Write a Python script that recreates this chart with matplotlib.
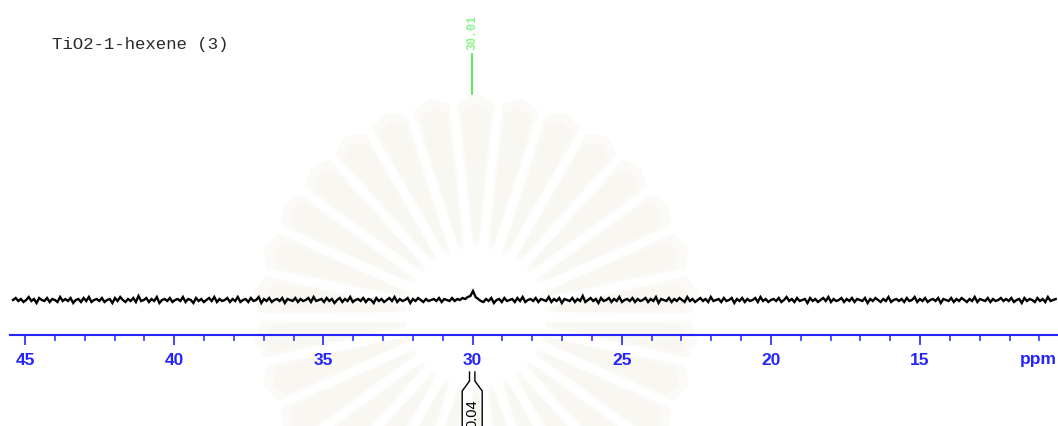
import numpy as np
import matplotlib
matplotlib.use("Agg")
import matplotlib.pyplot as plt
from matplotlib.patches import Polygon
from matplotlib.transforms import IdentityTransform

# ---- data -------------------------------------------------------------
title = "TiO2-1-hexene (3)"
ppm_start, ppm_end = 45.40, 10.45
noise = [
    0, 2, -1, 1, -2, 0, 3, -1, 1, -3, 2, 0, -1, 2, -2, 1, 0, -2, 3, -1,
    1, -1, 2, -3, 0, 1, -2, 2, -1, 3, -2, 0, 1, -1, 2, -2, 0, 1, -3, 2,
    -1, 3, 0, -2, 1, -1, 2, -2, 4, -1, 0, 2, -2, 1, -1, 3, -3, 0, 1, -1,
    2, -2, 0, 1, -1, 3, -2, 1, 0, -3, 2, -1, 1, -2, 0, 2, -1, 3, -2, 1,
    -1, 0, 2, -2, 1, -1, 3, -2, 0, 1, -2, 2, -1, 0, 3, -3, 1, -1, 2, -2,
    0, 1, -1, 2, -3, 1, 0, -1, 2, -2, 1, -1, 0, 2, -2, 3, -1, 0, 1, -2,
    2, -1, 1, -3, 0, 2, -2, 1, -1, 3, -2, 0, 1, -1, 2, -2, 1, 0, -3, 2,
    -1, 1, -2, 0, 2, -1, 3, -2, 1, -1, 0, 2, -3, 1, -1, 2, 0, -2, 1, -1,
    0, 1, -1, 2, -2, 1, 0, -1, 2, -1, 1, 0, 2, 1, 3, 4, 9, 3, 1, -1,
    -2, 1, -1, 2, -3, 0, 1, -2, 2, -1, 0, 1, -2, 2, -1, 3, -2, 0, 1, -1,
    2, -2, 1, 0, -1, 3, -2, 1, -1, 2, -3, 1, 0, -1, 2, -2, 1, -1, 4, -2,
    0, 2, -1, 1, -3, 2, -1, 0, 2, -2, 1, -1, 3, -2, 0, 1, -1, 2, -2, 1,
    -1, 0, 2, -2, 1, -1, 3, -3, 1, 0, -1, 2, -2, 1, -1, 2, 0, -2, 3, -1,
    1, -2, 0, 2, -1, 1, -2, 3, -1, 0, 1, -2, 2, -1, 0, 2, -3, 1, -1, 2,
    -2, 1, -1, 0, 2, -2, 3, -1, 1, -2, 0, 1, -1, 2, -2, 0, 3, -1, 1, -2,
    2, -1, 0, 1, -3, 2, -1, 1, -2, 0, 2, -1, 3, -2, 1, -1, 0, 2, -2, 1,
    -1, 2, -2, 1, 0, -1, 2, -3, 1, -1, 2, 0, -2, 1, -1, 3, -2, 0, 1, -1,
    1, -2, 2, -1, 0, 3, -2, 1, -1, 2, -2, 0, 1, -1, 2, -3, 1, 0, -1, 2,
    -2, 1, -1, 2, 0, -2, 1, -1, 3, -2, 1, 0, -1, 2, -2, 1, -1, 0, 2, -1,
    1, -1, 2, -2, 0, 1, -3, 2, -1, 1, 0, -2, 2, -1, 1, -2, 3, -1, 0, 1,
]
peak_ppm = 30.01
peak_label = "30.01"
integral_from, integral_to = 30.10, 29.92
integral_value = "0.04"
major_ticks = [45, 40, 35, 30, 25, 20, 15]
minor_ticks = list(range(11, 46))

# ---- figure -----------------------------------------------------------
W, H = 1058, 427
fig = plt.figure(figsize=(W / 100, H / 100), dpi=100)
fig.patch.set_facecolor("white")

# faint sunburst emblem in the background
cx, cy = 476, H - 318
for k in range(30):
    a = np.deg2rad(k * 12 + 6)
    for r_in, r_out, grow, col in [(70, 215, 1.25, (0.985, 0.982, 0.970)),
                                   (78, 205, 1.0, (0.972, 0.968, 0.948))]:
        h_in, h_out = np.deg2rad(1.8 * grow), np.deg2rad(4.0 * grow)
        pts = [
            (cx + r_in * np.cos(a - h_in), cy + r_in * np.sin(a - h_in)),
            (cx + r_out * np.cos(a - h_out), cy + r_out * np.sin(a - h_out)),
            (cx + (r_out + 8) * np.cos(a), cy + (r_out + 8) * np.sin(a)),
            (cx + r_out * np.cos(a + h_out), cy + r_out * np.sin(a + h_out)),
            (cx + r_in * np.cos(a + h_in), cy + r_in * np.sin(a + h_in)),
        ]
        fig.patches.append(Polygon(pts, closed=True,
                                   transform=IdentityTransform(),
                                   facecolor=col, edgecolor="none",
                                   zorder=-5))

# axes: bottom spine is the ppm scale; 1 intensity unit = 1 pixel
x0, x1 = 10, 1057
px_per_ppm = (920 - 25) / 30.0
xl = (45 + (25 - x0) / px_per_ppm, 15 - (x1 - 920) / px_per_ppm)
axis_y = 336
ax = fig.add_axes([x0 / W, (H - axis_y) / H, (x1 - x0) / W, axis_y / H])
ax.patch.set_alpha(0)
ax.set_xlim(*xl)
ax.set_ylim(-35, 301)

ppm = np.linspace(ppm_start, ppm_end, len(noise))
ax.plot(ppm, noise, color="black", lw=1.7, solid_joinstyle="miter")

blue = "#2424ff"
for s in ["top", "left", "right"]:
    ax.spines[s].set_visible(False)
ax.spines["bottom"].set_color(blue)
ax.spines["bottom"].set_linewidth(1.5)
ax.set_yticks([])
ax.set_xticks(major_ticks)
ax.set_xticks(minor_ticks, minor=True)
ax.set_xticklabels([str(t) for t in major_ticks])
ax.tick_params(axis="x", which="major", length=7.5, width=1.2, color=blue,
               labelcolor=blue, labelsize=12.5, pad=4.5)
ax.tick_params(axis="x", which="minor", length=4, width=1.1, color=blue)
for lab in ax.get_xticklabels():
    lab.set_fontweight("bold")
    lab.set_family("Liberation Sans")
ax.text(11.05, -59, "ppm", color=blue, fontsize=12.5, fontweight="bold",
        family="Liberation Sans", ha="center", va="center", clip_on=False)

# title
fig.text(52 / W, 1 - 45 / H, title, family="Liberation Mono", fontsize=12.5,
         color="#2a2a2a", ha="left", va="center")

# peak pick label
green = "#3ee83e"
ax.plot([peak_ppm, peak_ppm], [301 - 95, 301 - 55], color=green, lw=1.2,
        clip_on=False)
ax.text(peak_ppm, 301 - 32, peak_label, rotation=90, color="#8cf58c",
        family="Liberation Mono", fontsize=8.5, fontweight="bold",
        ha="center", va="center", clip_on=False)

# integral marker under the scale
half = 10 / px_per_ppm
mid = (integral_from + integral_to) / 2
for xin, xout in [(integral_from, mid + half), (integral_to, mid - half)]:
    ax.plot([xin, xin, xout, xout], [-72, -81, -91, -140], color="black",
            lw=1.0, clip_on=False)
ax.text(mid, -113, integral_value, rotation=90, color="black",
        family="Liberation Sans", fontsize=10.5, ha="center", va="center",
        clip_on=False)

fig.savefig("out.png", dpi=100, facecolor="white")
